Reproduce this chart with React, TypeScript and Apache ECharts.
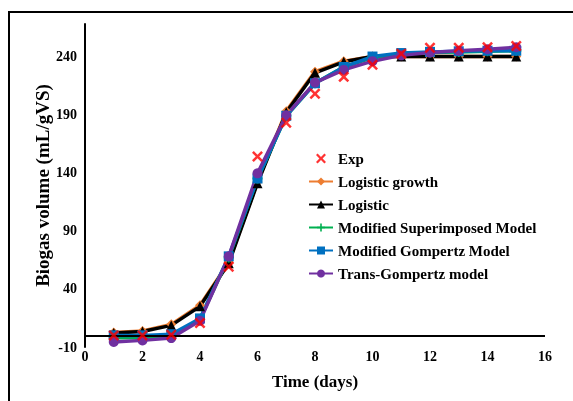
import React, { useEffect, useRef } from "react";
import * as echarts from "echarts";

const days = [1, 2, 3, 4, 5, 6, 7, 8, 9, 10, 11, 12, 13, 14, 15];
const expData = [0, 0, 0.5, 10.6, 59, 154, 183, 208, 222.5, 233, 242.5, 247.5, 247.5, 248, 249];
const logisticGrowth = [2.5, 3.8, 9.5, 26, 63, 132, 193, 227, 236, 240, 240, 240, 240, 240, 240];
const logistic = [2, 3.4, 8.6, 25, 62, 131, 192, 226, 235.5, 240, 240, 240, 240, 240, 240];
const modSuperimposed = [-2, -2, -1, 14, 67, 135, 189, 217, 231, 239, 242.5, 243.5, 244, 244.5, 245];
const modGompertz = [0, 0, 1, 14.6, 68, 135, 189, 217, 231, 240, 243, 244, 244.5, 245, 245];
const transGompertz = [-5.7, -4.3, -2.3, 12.5, 68, 139.5, 189.5, 217.6, 228.5, 236, 241, 243.4, 245, 246.3, 248];

const yTicks = { min: -10, max: 268, interval: 50 };
const xTicks = { min: 0, max: 16, interval: 2 };

const xPath = "path://M0,1.6L1.6,0L5,3.4L8.4,0L10,1.6L6.6,5L10,8.4L8.4,10L5,6.6L1.6,10L0,8.4L3.4,5Z";
const plusPath = "path://M4,0H6V4H10V6H6V10H4V6H0V4H4Z";

const pair = (vals: number[]) => days.map((d, i) => [d, vals[i]]);

const FONT = "'Liberation Serif', 'Times New Roman', serif";

export default function App() {
  const ref = useRef<HTMLDivElement>(null);
  useEffect(() => {
    if (!ref.current) return;
    const chart = echarts.init(ref.current, undefined, { renderer: "svg" });
    const lineSeries = (name: string, vals: number[], color: string, symbol: string, size: number) => ({
      name,
      type: "line",
      data: pair(vals),
      symbol,
      symbolSize: size,
      lineStyle: { color, width: 3.5 },
      itemStyle: { color },
      z: 3,
    });
    chart.setOption({
      animation: false,
      textStyle: { fontFamily: FONT },
      grid: { left: 85, right: 28, top: 24, bottom: 54 },
      graphic: [
        {
          type: "rect",
          shape: { x: 9, y: 12, width: 700, height: 500 },
          style: { fill: "none", stroke: "#000", lineWidth: 2 },
          silent: true,
        },
      ],
      legend: {
        orient: "vertical",
        left: 303,
        top: 146,
        itemGap: 8,
        itemWidth: 24,
        itemHeight: 10,
        textStyle: { fontFamily: FONT, fontWeight: "bold", fontSize: 15, color: "#000" },
        data: ["Exp", "Logistic growth", "Logistic", "Modified Superimposed Model", "Modified Gompertz Model", "Trans-Gompertz model"],
      },
      xAxis: {
        type: "value",
        min: xTicks.min,
        max: xTicks.max,
        interval: xTicks.interval,
        name: "Time (days)",
        nameLocation: "middle",
        nameGap: 26,
        nameMoveOverlap: false,
        nameTextStyle: { fontFamily: FONT, fontWeight: "bold", fontSize: 17, color: "#000" },
        axisLine: { show: false, onZero: false },
        axisTick: { show: false },
        splitLine: { show: false },
        axisLabel: { margin: 2, fontFamily: FONT, fontWeight: "bold", fontSize: 14, color: "#000" },
      },
      yAxis: {
        type: "value",
        min: yTicks.min,
        max: yTicks.max,
        interval: yTicks.interval,
        name: "Biogas volume (mL/gVS)",
        nameLocation: "middle",
        nameGap: 33,
        nameMoveOverlap: false,
        nameTextStyle: { fontFamily: FONT, fontWeight: "bold", fontSize: 19, color: "#000" },
        axisLine: { show: true, lineStyle: { color: "#000", width: 2 } },
        axisTick: { show: false },
        splitLine: { show: false },
        axisLabel: { margin: 8, showMaxLabel: false, fontFamily: FONT, fontWeight: "bold", fontSize: 14, color: "#000" },
      },
      series: [
        {
          ...lineSeries("Logistic growth", logisticGrowth, "#ED7D31", "diamond", 10),
          markLine: {
            silent: true,
            symbol: "none",
            label: { show: false },
            lineStyle: { color: "#000", width: 2, type: "solid" },
            data: [{ yAxis: 0 }],
          },
        },
        lineSeries("Logistic", logistic, "#000000", "triangle", 10),
        lineSeries("Modified Superimposed Model", modSuperimposed, "#00B050", plusPath, 10),
        lineSeries("Modified Gompertz Model", modGompertz, "#0070C0", "rect", 10),
        lineSeries("Trans-Gompertz model", transGompertz, "#7030A0", "circle", 10),
        {
          name: "Exp",
          type: "scatter",
          data: pair(expData),
          symbol: xPath,
          symbolSize: 11,
          itemStyle: { color: "#FF0000" },
          z: 5,
        },
      ],
    });
    return () => chart.dispose();
  }, []);
  return <div ref={ref} style={{ position: "fixed", left: 0, top: 0, width: 573, height: 401 }} />;
}
